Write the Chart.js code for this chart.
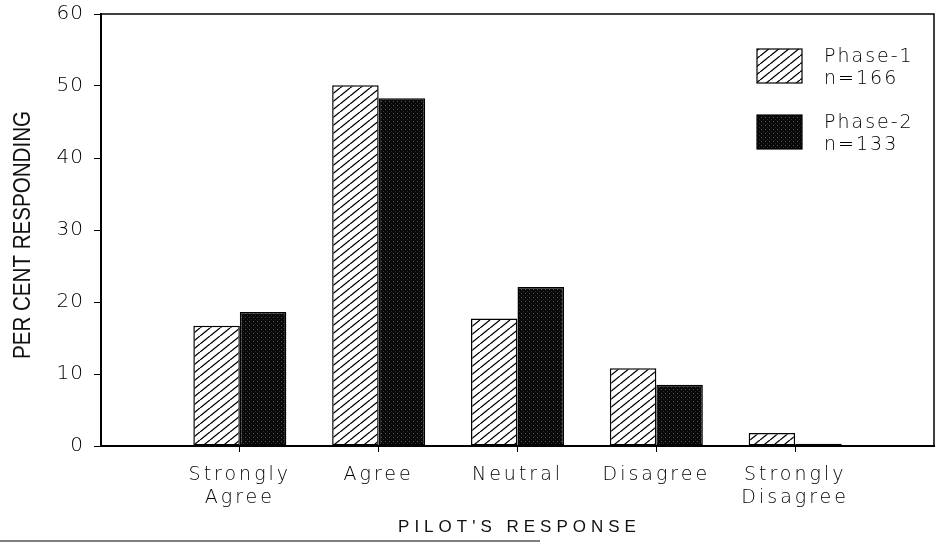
<!DOCTYPE html>
<html>
<head>
<meta charset="utf-8">
<script src="https://cdn.jsdelivr.net/npm/chart.js@4.4.0/dist/chart.umd.min.js"></script>
<style>
    html, body { margin: 0; padding: 0; background: #fff; }
</style>
</head>
<body>
<canvas id="chart" width="940" height="543"></canvas>
<script>
// ===== DATA =====
const categories = [['Strongly', 'Agree'], 'Agree', 'Neutral', 'Disagree', ['Strongly', 'Disagree']];
const seriesNames = ['Phase-1', 'Phase-2'];
const seriesN = ['n=166', 'n=133'];
const phase1 = [16.7, 50.1, 17.7, 10.8, 1.8];
const phase2 = [18.6, 48.3, 22.1, 8.5, 0.3];
const yMin = 0, yMax = 60, yStep = 10;
const xTitle = "PILOT'S RESPONSE";
const yTitle = 'PER CENT RESPONDING';

// empty slot at each end, as in the original plot
const labels = ['', ...categories, ''];
const pad = arr => [null, ...arr, null];

// ===== PATTERNS =====
function hatchPattern() {
    const c = document.createElement('canvas');
    c.width = 10; c.height = 8;
    const g = c.getContext('2d');
    g.fillStyle = '#fff';
    g.fillRect(0, 0, 10, 8);
    g.strokeStyle = '#000';
    g.lineWidth = 1.3;
    for (let k = -1; k <= 1; k++) {
        g.beginPath();
        g.moveTo(k * 10, 8);
        g.lineTo(k * 10 + 10, 0);
        g.stroke();
    }
    return g.createPattern(c, 'repeat');
}

function stipplePattern() {
    const c = document.createElement('canvas');
    c.width = 4; c.height = 4;
    const g = c.getContext('2d');
    g.fillStyle = '#080808';
    g.fillRect(0, 0, 4, 4);
    g.fillStyle = '#5a5a5a';
    g.fillRect(1, 1, 1, 1);
    g.fillStyle = '#2e2e2e';
    g.fillRect(3, 3, 1, 1);
    return g.createPattern(c, 'repeat');
}

const tickFont = { family: "'DejaVu Sans', sans-serif", size: 19, weight: 200 };

// wide letter spacing of the plotter font: x labels draw before the bars,
// y labels (ticks z: 1) after them with tighter spacing
const spacingPlugin = {
    id: 'spacing',
    beforeDraw(chart) { chart.ctx.letterSpacing = '3px'; },
    afterDatasetsDraw(chart) { chart.ctx.letterSpacing = '1px'; },
    afterDraw(chart) { chart.ctx.letterSpacing = '0px'; }
};

// top/right frame, axis titles, legend box, scan edge
const framePlugin = {
    id: 'frame',
    afterDraw(chart) {
        const { ctx, chartArea: a } = chart;
        ctx.save();
        ctx.letterSpacing = '0px';
        ctx.strokeStyle = '#000';
        ctx.lineWidth = 1.5;
        ctx.beginPath();
        ctx.moveTo(a.left, a.top);
        ctx.lineTo(a.right, a.top);
        ctx.lineTo(a.right, a.bottom);
        ctx.stroke();

        // y title: tall, condensed
        ctx.fillStyle = '#111';
        ctx.font = "24px 'Liberation Sans', sans-serif";
        ctx.textAlign = 'center';
        ctx.textBaseline = 'middle';
        const w = ctx.measureText(yTitle).width;
        ctx.save();
        ctx.translate(23, 235);
        ctx.rotate(-Math.PI / 2);
        ctx.scale(248 / w, 1);
        ctx.fillText(yTitle, 0, 0);
        ctx.restore();

        // x title: small caps, wide spacing
        ctx.save();
        ctx.font = "17px 'Liberation Sans', sans-serif";
        ctx.letterSpacing = '5px';
        ctx.textBaseline = 'alphabetic';
        ctx.fillText(xTitle, (a.left + a.right) / 2 + 2, 532);
        ctx.restore();

        // legend
        ctx.font = "200 19px 'DejaVu Sans', sans-serif";
        ctx.letterSpacing = '2px';
        ctx.textBaseline = 'middle';
        ctx.textAlign = 'left';
        chart.data.datasets.forEach((ds, i) => {
            const y = 49 + i * 66;
            ctx.fillStyle = ds.backgroundColor;
            ctx.fillRect(757, y, 45, 34);
            ctx.lineWidth = 1.2;
            ctx.strokeRect(757, y, 45, 34);
            ctx.fillStyle = '#000';
            ctx.fillText(ds.label, 824, y + 8);
            ctx.fillText(seriesN[i], 824, y + 30);
        });

        ctx.strokeStyle = '#555';
        ctx.lineWidth = 1.5;
        ctx.beginPath();
        ctx.moveTo(0, 541);
        ctx.lineTo(540, 541);
        ctx.stroke();
        ctx.restore();
    }
};

new Chart(document.getElementById('chart'), {
    type: 'bar',
    data: {
        labels: labels,
        datasets: [
            { label: seriesNames[0], data: pad(phase1), backgroundColor: hatchPattern(),
              borderColor: '#000', borderWidth: 1.5, borderSkipped: false },
            { label: seriesNames[1], data: pad(phase2), backgroundColor: stipplePattern(),
              borderColor: '#000', borderWidth: 1.5, borderSkipped: false }
        ]
    },
    options: {
        responsive: false,
        animation: false,
        layout: { padding: { top: 14, right: 6, left: 0, bottom: 0 } },
        datasets: { bar: { categoryPercentage: 0.67, barPercentage: 1.0 } },
        scales: {
            x: {
                offset: false,
                afterFit: s => { s.height = 97; s.paddingLeft = 0; s.paddingRight = 0; },
                grid: {
                    offset: false,
                    drawOnChartArea: false, drawTicks: true, tickLength: 6,
                    color: c => (c.index === 0 || c.index === labels.length - 1) ? 'rgba(0,0,0,0)' : '#000'
                },
                border: { display: true, color: '#000', width: 2 },
                ticks: { color: '#000', font: tickFont, padding: 12, maxRotation: 0, autoSkip: false },
                title: { display: false }
            },
            y: {
                min: yMin, max: yMax,
                afterFit: s => { s.width = 101; s.paddingTop = 0; s.paddingBottom = 0; },
                grid: { drawOnChartArea: false, drawTicks: true, tickLength: 7, color: '#000' },
                border: { display: true, color: '#000', width: 2 },
                ticks: { z: 1, stepSize: yStep, color: '#000', font: { ...tickFont, size: 20 }, padding: 10 },
                title: { display: false }
            }
        },
        plugins: {
            legend: { display: false },
            tooltip: { enabled: false }
        }
    },
    plugins: [spacingPlugin, framePlugin]
});
</script>
</body>
</html>
